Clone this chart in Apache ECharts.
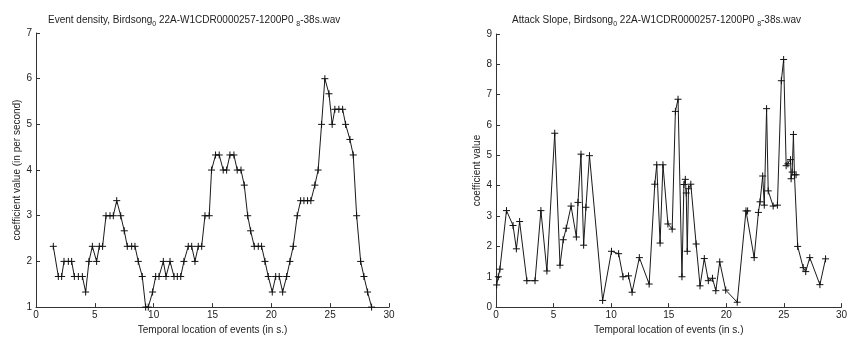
<!DOCTYPE html>
<html>
<head>
<meta charset="utf-8">
<script src="https://cdn.jsdelivr.net/npm/echarts@6/dist/echarts.min.js"></script>
<style>html,body{margin:0;padding:0;background:#fff;}#c{width:850px;height:340px;}</style>
</head>
<body>
<div id="c"></div>
<script>
// Left chart: Event density
const densityX = [1.47,1.9,2.18,2.38,2.75,3.03,3.26,3.6,3.94,4.22,4.5,4.79,5.15,5.38,5.66,5.95,6.29,6.57,6.86,7.2,7.5,7.76,8.13,8.41,8.69,9.03,9.32,9.54,9.91,10.17,10.45,10.82,11.05,11.39,11.73,12.01,12.3,12.57,12.94,13.23,13.51,13.79,14.08,14.36,14.72,14.92,15.26,15.57,15.91,16.2,16.48,16.82,17.1,17.42,17.7,17.99,18.24,18.55,18.89,19.17,19.46,19.74,20.08,20.37,20.67,20.96,21.3,21.58,21.86,22.2,22.49,22.77,23.08,23.36,23.7,23.98,24.27,24.55,24.9,25.17,25.4,25.74,26.06,26.31,26.68,26.96,27.25,27.59,27.87,28.18,28.52];
const densityY = [2.33,1.67,1.67,2,2,2,1.67,1.67,1.67,1.33,2,2.33,2,2.33,2.33,3,3,3,3.33,3,2.67,2.33,2.33,2.33,2,1.67,1,1,1.33,1.67,1.67,2,1.67,2,1.67,1.67,1.67,2,2.33,2.33,2,2.33,2.33,3,3,4,4.33,4.33,4,4,4.33,4.33,4,4,3.67,3,2.67,2.33,2.33,2.33,2,1.67,1.33,1.67,1.67,1.33,1.67,2,2.33,3,3.33,3.33,3.33,3.33,3.67,4,5,6,5.67,5,5.33,5.33,5.33,5,4.67,4.33,3,2,1.67,1.33,1];
// Right chart: Attack slope
const slopeX = [0.06,0.2,0.34,0.91,1.48,1.77,2.05,2.68,3.39,3.9,4.42,5.1,5.56,5.84,6.1,6.52,6.98,7.12,7.38,7.61,7.81,8.12,9.26,10.03,10.65,11.03,11.51,11.82,12.45,13.3,13.79,13.96,14.25,14.5,14.93,15.3,15.58,15.81,16.15,16.32,16.44,16.52,16.61,16.72,16.92,17.38,17.72,18.09,18.44,18.8,19.09,19.43,19.95,20.95,21.71,21.85,22.42,22.79,22.93,23.16,23.3,23.5,23.64,24.07,24.44,24.78,24.98,25.2,25.35,25.58,25.63,25.72,25.83,25.92,26.06,26.2,26.68,26.9,27.25,28.13,28.62];
const slopeY = [0.73,1.0,1.25,3.18,2.69,1.92,2.82,0.87,0.87,3.18,1.19,5.73,1.38,2.22,2.6,3.33,2.31,3.45,5.04,2.04,3.29,4.99,0.22,1.84,1.76,1.0,1.03,0.49,1.63,0.76,4.05,4.69,2.11,4.69,2.74,2.57,6.45,6.85,1.0,4.04,4.21,3.76,1.84,3.9,4.05,2.08,0.7,1.6,0.87,0.95,0.54,1.49,0.56,0.16,3.17,3.17,1.63,3.12,3.47,4.32,3.36,6.54,3.83,3.33,3.36,7.46,8.16,4.66,4.72,4.86,4.23,4.45,5.69,4.36,4.36,2.0,1.3,1.17,1.63,0.74,1.59];

const titleLeft = ['Event density, Birdsong', '0', ' 22A-W1CDR0000257-1200P0 ', '8', '-38s.wav'];
const titleRight = ['Attack Slope, Birdsong', '0', ' 22A-W1CDR0000257-1200P0 ', '8', '-38s.wav'];
const xName = 'Temporal location of events (in s.)';
const yNameLeft = 'coefficient value (in per second)';
const yNameRight = 'coefficient value';

const FONT = 'Liberation Sans, Arial, sans-serif';
const TXT = '#222';
function richTitle(parts){
  return '{a|' + parts[0] + '}{s|' + parts[1] + '}{a|' + parts[2] + '}{s|' + parts[3] + '}{a|' + parts[4] + '}';
}
const titleRich = {
  a: {fontSize: 10, fontWeight: 'normal', fontFamily: FONT, color: TXT, lineHeight: 14, verticalAlign: 'top'},
  s: {fontSize: 7, fontWeight: 'normal', fontFamily: FONT, color: TXT, lineHeight: 14, verticalAlign: 'top', padding:[6,0,0,0]}
};
const plus = 'path://M0,5L10,5M5,0L5,10';
function xAxis(gi){
  return {
    gridIndex: gi, type: 'value', min: 0, max: 30, interval: 5,
    name: xName, nameLocation: 'middle', nameGap: 14,
    nameTextStyle: {fontSize: 10, fontFamily: FONT, color: TXT},
    axisLine: {show: true, lineStyle: {color: '#333', width: 1}},
    axisTick: {show: true, inside: true, length: 4, lineStyle: {color: '#333'}},
    axisLabel: {fontSize: 10, fontFamily: FONT, color: TXT, margin: 3},
    splitLine: {show: false}
  };
}
function yAxis(gi, min, max, name){
  return {
    gridIndex: gi, type: 'value', min: min, max: max, interval: 1,
    name: name, nameLocation: 'middle', nameGap: 14,
    nameTextStyle: {fontSize: 10, fontFamily: FONT, color: TXT},
    axisLine: {show: true, lineStyle: {color: '#333', width: 1}},
    axisTick: {show: true, inside: true, length: 4, lineStyle: {color: '#333'}},
    axisLabel: {fontSize: 10, fontFamily: FONT, color: TXT, margin: 4},
    splitLine: {show: false}
  };
}
function series(gi, xs, ys){
  return {
    type: 'line', xAxisIndex: gi, yAxisIndex: gi,
    data: xs.map((x, i) => [x, ys[i]]),
    symbol: plus, symbolSize: 7, showAllSymbol: true,
    lineStyle: {color: '#1a1a1a', width: 1},
    itemStyle: {color: 'none', borderColor: '#111', borderWidth: 1},
    animation: false, silent: true
  };
}
const chart = echarts.init(document.getElementById('c'), null, {renderer: 'canvas'});
chart.setOption({
  backgroundColor: '#fff',
  animation: false,
  title: [
    {text: richTitle(titleLeft), left: 43, top: 10, textStyle: {fontWeight: 'normal', rich: titleRich}},
    {text: richTitle(titleRight), left: 507, top: 10, textStyle: {fontWeight: 'normal', rich: titleRich}}
  ],
  grid: [
    {left: 36, right: 461, top: 33, bottom: 29},
    {left: 496, right: 2, top: 34, bottom: 29}
  ],
  xAxis: [xAxis(0), xAxis(1)],
  yAxis: [yAxis(0, 1, 7, yNameLeft), yAxis(1, 0, 9, yNameRight)],
  series: [series(0, densityX, densityY), series(1, slopeX, slopeY)]
});
</script>
</body>
</html>
